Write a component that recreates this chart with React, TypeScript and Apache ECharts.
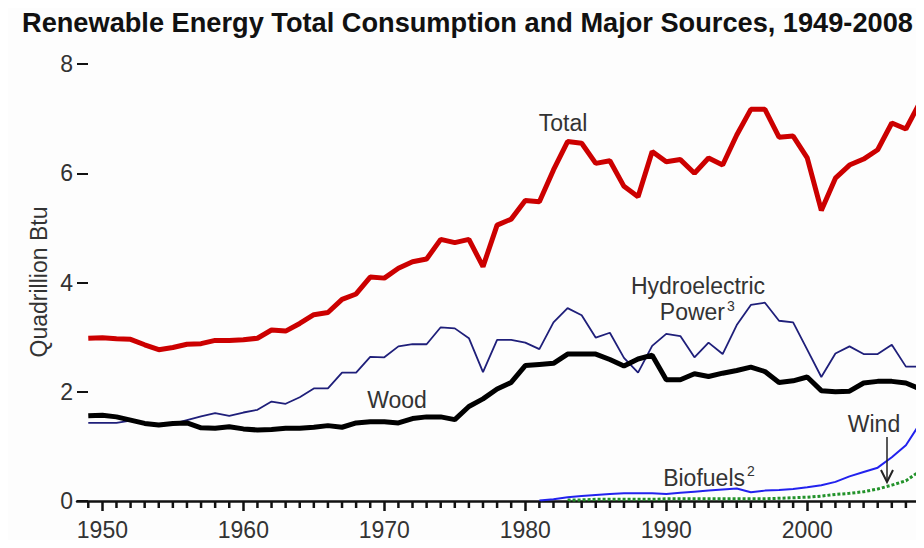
import React, { useEffect, useRef } from "react";
import * as echarts from "echarts";

const TITLE = "Renewable Energy Total Consumption and Major Sources, 1949-2008";
const Y_NAME = "Quadrillion Btu";
const START_YEAR = 1949;
const DECADE_TICKS = [1950, 1960, 1970, 1980, 1990, 2000];
const Y_TICKS = [0, 2, 4, 6, 8];

const totalValues = [
  2.98, 2.99, 2.97, 2.96, 2.86, 2.77, 2.81, 2.87, 2.88, 2.94,
  2.94, 2.95, 2.98, 3.13, 3.11, 3.25, 3.41, 3.45, 3.69, 3.79,
  4.10, 4.08, 4.26, 4.38, 4.43, 4.79, 4.73, 4.79, 4.29, 5.05,
  5.16, 5.50, 5.48, 6.06, 6.58, 6.55, 6.18, 6.23, 5.76, 5.57,
  6.40, 6.21, 6.25, 6.00, 6.28, 6.15, 6.70, 7.17, 7.17, 6.66,
  6.68, 6.28, 5.32, 5.91, 6.15, 6.26, 6.43, 6.92, 6.81, 7.30,
];

const hydroValues = [
  1.43, 1.43, 1.43, 1.47, 1.41, 1.37, 1.41, 1.48, 1.55, 1.61,
  1.56, 1.62, 1.67, 1.82, 1.78, 1.90, 2.06, 2.06, 2.35, 2.35,
  2.64, 2.63, 2.83, 2.87, 2.87, 3.18, 3.16, 2.98, 2.36, 2.95,
  2.95, 2.90, 2.78, 3.27, 3.53, 3.40, 2.99, 3.08, 2.62, 2.35,
  2.84, 3.06, 3.02, 2.63, 2.90, 2.69, 3.22, 3.59, 3.63, 3.30,
  3.27, 2.77, 2.27, 2.70, 2.83, 2.69, 2.69, 2.86, 2.46, 2.46,
];

const woodValues = [
  1.56, 1.57, 1.54, 1.48, 1.42, 1.39, 1.42, 1.43, 1.34, 1.33,
  1.36, 1.32, 1.30, 1.31, 1.33, 1.33, 1.35, 1.38, 1.35, 1.43,
  1.45, 1.45, 1.43, 1.51, 1.54, 1.54, 1.49, 1.73, 1.87, 2.05,
  2.17, 2.48, 2.50, 2.52, 2.69, 2.69, 2.69, 2.59, 2.47, 2.60,
  2.67, 2.22, 2.22, 2.33, 2.28, 2.34, 2.39, 2.45, 2.37, 2.17,
  2.20, 2.27, 2.02, 2.00, 2.01, 2.16, 2.19, 2.19, 2.16, 2.05,
];

const BIOFUEL_START = 1981;
const biofuelValues = [
  0.01, 0.03, 0.07, 0.09, 0.11, 0.13, 0.14, 0.14, 0.14, 0.13,
  0.15, 0.17, 0.19, 0.21, 0.23, 0.16, 0.19, 0.20, 0.22, 0.25,
  0.29, 0.35, 0.45, 0.53, 0.61, 0.80, 1.02, 1.42,
];

const WIND_START = 1983;
const windValues = [
  0.02, 0.02, 0.03, 0.03, 0.03, 0.03, 0.03, 0.04, 0.04, 0.04,
  0.04, 0.04, 0.04, 0.04, 0.04, 0.05, 0.06, 0.07, 0.09, 0.12,
  0.14, 0.17, 0.22, 0.29, 0.37, 0.55,
];

const toPairs = (start: number, vals: number[]) => vals.map((v, i) => [start + i, v]);
const yearTicks = totalValues.map((_, i) => START_YEAR + i);
const minorYears = yearTicks.filter((y) => y % 10 !== 0);

const FONT = "Arial, 'Liberation Sans', Helvetica, sans-serif";
const TXT = "#333333";
const X_MIN = 1948.2;
const X_MAX = 2008;

export default function App() {
  const ref = useRef<HTMLDivElement>(null);
  useEffect(() => {
    if (!ref.current) return;
    const chart = echarts.init(ref.current, null, { renderer: "svg" });
    const label = (text: string, x: number, y: number, size = 23, align = "center") => ({
      type: "text",
      x,
      y,
      style: {
        text,
        fill: TXT,
        font: `${size}px ${FONT}`,
        lineHeight: size,
        textAlign: align,
        textVerticalAlign: "middle",
      },
      z: 100,
    });
    chart.setOption({
      animation: false,
      backgroundColor: "#fdfdfd",
      title: {
        text: TITLE,
        left: 17,
        top: 4,
        textStyle: { fontFamily: FONT, fontSize: 27.2, fontWeight: "bold", color: "#111111" },
      },
      grid: { left: 77, right: 4, top: 64, bottom: 47 },
      xAxis: {
        type: "value",
        min: X_MIN,
        max: X_MAX,
        axisLine: { show: true, lineStyle: { color: "#111111", width: 2.5 } },
        axisTick: {
          show: true,
          customValues: DECADE_TICKS,
          length: 10,
          lineStyle: { color: "#111111", width: 2.5 },
        },
        axisLabel: {
          customValues: DECADE_TICKS,
          fontFamily: FONT,
          fontSize: 23,
          color: TXT,
          margin: 17,
          formatter: (v: number) => String(v),
        },
        splitLine: { show: false },
      },
      yAxis: {
        type: "value",
        min: 0,
        max: 8,
        interval: 2,
        axisLine: { show: false },
        axisTick: {
          show: true,
          inside: true,
          length: 11,
          lineStyle: { color: "#111111", width: 2 },
        },
        axisLabel: {
          fontFamily: FONT,
          fontSize: 23,
          color: TXT,
          margin: 4,
          customValues: Y_TICKS,
        },
        splitLine: { show: false },
      },
      series: [
        {
          name: "Year ticks",
          type: "scatter",
          silent: true,
          clip: false,
          data: minorYears.map((y) => [y, 0]),
          symbol: "rect",
          symbolSize: [2.5, 7],
          symbolOffset: [0, 3.5],
          itemStyle: { color: "#111111", opacity: 1 },
          z: 10,
        },
        {
          name: "Hydroelectric Power",
          type: "line",
          data: toPairs(START_YEAR, hydroValues),
          showSymbol: false,
          clip: false,
          lineStyle: { color: "#1f1f7a", width: 1.8 },
          z: 3,
        },
        {
          name: "Wood",
          type: "line",
          data: toPairs(START_YEAR, woodValues),
          showSymbol: false,
          clip: false,
          lineStyle: { color: "#000000", width: 5 },
          z: 4,
        },
        {
          name: "Total",
          type: "line",
          data: toPairs(START_YEAR, totalValues),
          showSymbol: false,
          clip: false,
          lineStyle: { color: "#cc0000", width: 5 },
          z: 5,
        },
        {
          name: "Biofuels",
          type: "line",
          data: toPairs(BIOFUEL_START, biofuelValues),
          showSymbol: false,
          clip: false,
          lineStyle: { color: "#2222ee", width: 2 },
          z: 3,
        },
        {
          name: "Wind",
          type: "line",
          data: toPairs(WIND_START, windValues),
          showSymbol: false,
          clip: false,
          lineStyle: { color: "#22922a", width: 3, type: [3, 2] },
          z: 2,
        },
      ],
      graphic: [
        {
          type: "text",
          x: 39,
          y: 282,
          rotation: Math.PI / 2,
          style: {
            text: Y_NAME,
            fill: TXT,
            font: `23px ${FONT}`,
            textAlign: "center",
            textVerticalAlign: "middle",
          },
        },
        label("Total", 563, 123),
        label("Hydroelectric", 698, 286),
        label("Power", 725, 312, 23, "right"),
        label("3", 727, 306, 14, "left"),
        label("Wood", 397, 400),
        label("Wind", 874, 424),
        label("Biofuels", 745, 478, 23, "right"),
        label("2", 747, 471, 14, "left"),
        {
          type: "line",
          shape: { x1: 887, y1: 437, x2: 887, y2: 481 },
          style: { stroke: "#222222", lineWidth: 1.5 },
          z: 100,
        },
        {
          type: "polyline",
          shape: { points: [[881, 470], [887, 482], [893, 470]] },
          style: { stroke: "#222222", lineWidth: 2, fill: null },
          z: 100,
        },
      ],
    });
    return () => chart.dispose();
  }, []);
  return <div ref={ref} style={{ width: 924, height: 548, margin: -8 }} />;
}
